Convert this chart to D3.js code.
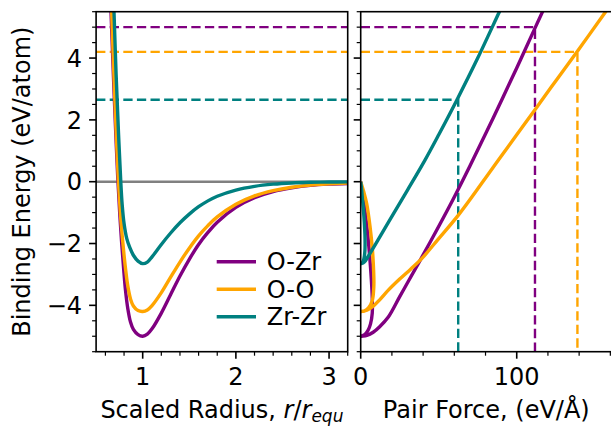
<!DOCTYPE html>
<html><head><meta charset="utf-8">
<script src="https://cdn.jsdelivr.net/npm/d3@7"></script>
<style>body{margin:0;background:#fff}svg{display:block;font-family:"DejaVu Sans",sans-serif}</style>
</head><body><svg id="c" width="611" height="428"></svg>
<script>
const series = ["O-Zr", "O-O", "Zr-Zr"];
const colors = ["#800080", "#ffa500", "#008080"];

// Left panel: binding energy vs scaled radius
const rOZr = [0.65,0.66,0.685,0.705,0.733,0.755,0.775,0.795,0.815,0.84,0.87,0.9,0.95,1.0,1.05,1.1,1.2,1.3,1.4,1.5,1.6,1.7,1.8,2.0,2.2,2.4,2.6,2.8,3.0,3.2];
const eOZr = [6.3,5.5,3.5,2.0,0.1,-1.1,-2.0,-2.8,-3.5,-4.1,-4.55,-4.78,-4.95,-5.0,-4.93,-4.76,-4.25,-3.65,-3.05,-2.51,-2.03,-1.64,-1.31,-0.83,-0.52,-0.32,-0.2,-0.12,-0.08,-0.06];
const rOO = [0.655,0.667,0.69,0.71,0.738,0.76,0.78,0.8,0.82,0.84,0.87,0.9,0.95,1.0,1.05,1.1,1.2,1.3,1.4,1.5,1.6,1.7,1.8,2.0,2.2,2.4,2.6,2.8,3.0,3.2];
const eOO = [6.5,5.5,3.55,2.0,0.1,-1.0,-1.75,-2.38,-2.92,-3.37,-3.8,-4.02,-4.17,-4.2,-4.15,-4.01,-3.59,-3.09,-2.6,-2.15,-1.75,-1.42,-1.14,-0.73,-0.46,-0.29,-0.18,-0.11,-0.07,-0.04];
const rZrZr = [0.68,0.692,0.715,0.74,0.764,0.78,0.8,0.83,0.86,0.9,0.95,1.0,1.05,1.1,1.2,1.3,1.4,1.5,1.6,1.7,1.8,2.0,2.2,2.4,2.6,2.8,3.0,3.2];
const eZrZr = [6.5,5.5,3.45,1.6,0.05,-0.75,-1.35,-1.85,-2.12,-2.38,-2.57,-2.65,-2.6,-2.43,-2.03,-1.66,-1.33,-1.05,-0.81,-0.62,-0.47,-0.27,-0.15,-0.08,-0.04,-0.02,-0.01,-0.005];

// Right panel: binding energy vs pair force
const fOZr = [0,1.4,2.9,4.5,5.8,6.8,7.4,7.4,6.3,4.6,2.5,0,4,8,12,17.7,25,30,36.9,45,59,70,85,100,111.7,117,120];
const efOZr = [0,-0.45,-1.0,-1.7,-2.45,-3.15,-3.75,-4.25,-4.6,-4.82,-4.95,-5.0,-4.97,-4.87,-4.7,-4.38,-3.72,-3.27,-2.65,-1.91,-0.59,0.51,2.07,3.68,4.97,5.55,5.88];
const fOO = [0,1.8,3.8,6.0,7.5,8.3,8.4,7.4,5.0,2.5,0,4,8,12,17.7,25,32,39.1,50,62.6,80,100,111.7,125,138.9,157,160];
const efOO = [0,-0.3,-0.7,-1.46,-2.2,-2.9,-3.4,-3.85,-4.08,-4.18,-4.2,-4.16,-4.03,-3.83,-3.51,-3.15,-2.83,-2.49,-1.84,-1.08,0.12,1.52,2.33,3.26,4.22,5.5,5.71];
const fZrZr = [0,0.6,1.0,1.8,2.35,2.7,2.8,2.7,2.35,1.8,1.0,0,1.5,3,5,10,20,30,41.2,50,61.5,75,88.9,92];
const efZrZr = [0,-0.25,-0.5,-0.95,-1.35,-1.7,-2.0,-2.23,-2.41,-2.54,-2.62,-2.65,-2.63,-2.56,-2.4,-1.98,-1.12,-0.27,0.7,1.52,2.63,4.0,5.5,5.83];

// Reference levels (well depths) and the force where each curve reaches them
const depthLevels = [5.0, 4.2, 2.65];
const forceAtLevel = [111.7, 138.9, 62.5];

const xTicksLeft = [1, 2, 3];
const xTicksRight = [0, 100];
const yTicks = [-4, -2, 0, 2, 4];

const leftData = [[rOZr, eOZr], [rOO, eOO], [rZrZr, eZrZr]];
const rightData = [[fOZr, efOZr], [fOO, efOO], [fZrZr, efZrZr]];

const svg = d3.select("#c");
const yTop = 11.7, yBot = 351.7;
const y = d3.scaleLinear().domain([-5.5, 5.5]).range([yBot, yTop]);
const xL = d3.scaleLinear().domain([0.5, 3.2]).range([96.1, 347.7]);
const xR = d3.scaleLinear().domain([0, 161]).range([360.7, 611.9]);
const fmt = v => (v < 0 ? "\u2212" + Math.abs(v) : String(v));

const defs = svg.append("defs");
defs.append("clipPath").attr("id", "clipL").append("rect")
  .attr("x", xL.range()[0]).attr("y", yTop).attr("width", xL.range()[1] - xL.range()[0]).attr("height", yBot - yTop);
defs.append("clipPath").attr("id", "clipR").append("rect")
  .attr("x", xR.range()[0]).attr("y", yTop).attr("width", xR.range()[1] - xR.range()[0]).attr("height", yBot - yTop);

const dash = "9.3,4.3";
const curveW = 3.4;

// ---- Left panel ----
const gL = svg.append("g").attr("clip-path", "url(#clipL)");
gL.append("line").attr("x1", xL.range()[0]).attr("x2", xL.range()[1])
  .attr("y1", y(0)).attr("y2", y(0)).attr("stroke", "#808080").attr("stroke-width", 2.5);
depthLevels.forEach((d, i) => {
  gL.append("line").attr("x1", xL.range()[0]).attr("x2", xL.range()[1])
    .attr("y1", y(d)).attr("y2", y(d)).attr("stroke", colors[i]).attr("stroke-width", 2.4)
    .attr("stroke-dasharray", dash);
});
leftData.forEach(([xs, es], i) => {
  const line = d3.line().x((d, j) => xL(xs[j])).y((d, j) => y(es[j])).curve(d3.curveCatmullRom.alpha(0.5));
  gL.append("path").attr("d", line(xs)).attr("fill", "none").attr("stroke", colors[i])
    .attr("stroke-width", curveW).attr("stroke-linejoin", "round");
});

// ---- Right panel ----
const gR = svg.append("g").attr("clip-path", "url(#clipR)");
depthLevels.forEach((d, i) => {
  gR.append("path")
    .attr("d", `M${xR(0)},${y(d)}H${xR(forceAtLevel[i])}V${yBot}`)
    .attr("fill", "none").attr("stroke", colors[i]).attr("stroke-width", 2.4)
    .attr("stroke-dasharray", dash);
});
rightData.forEach(([xs, es], i) => {
  const line = d3.line().x((d, j) => xR(xs[j])).y((d, j) => y(es[j])).curve(d3.curveCatmullRom.alpha(0.5));
  gR.append("path").attr("d", line(xs)).attr("fill", "none").attr("stroke", colors[i])
    .attr("stroke-width", curveW).attr("stroke-linejoin", "round");
});

// ---- Axes ----
function frame(x0, x1) {
  svg.append("rect").attr("x", x0).attr("y", yTop).attr("width", x1 - x0).attr("height", yBot - yTop)
    .attr("fill", "none").attr("stroke", "#000").attr("stroke-width", 1.6);
}
frame(xL.range()[0], xL.range()[1]);
frame(xR.range()[0], xR.range()[1]);

function yAxis(x0, labels) {
  const g = svg.append("g");
  const minor = d3.range(-5.5, 5.51, 0.5).filter(v => !yTicks.includes(v));
  minor.forEach(v => g.append("line").attr("x1", x0 - 4).attr("x2", x0).attr("y1", y(v)).attr("y2", y(v))
    .attr("stroke", "#000").attr("stroke-width", 1.2));
  yTicks.forEach(v => {
    g.append("line").attr("x1", x0 - 7).attr("x2", x0).attr("y1", y(v)).attr("y2", y(v))
      .attr("stroke", "#000").attr("stroke-width", 1.6);
    if (labels) g.append("text").attr("x", x0 - 14).attr("y", y(v) + 8.7).attr("text-anchor", "end")
      .attr("font-size", 24).text(fmt(v));
  });
}
yAxis(xL.range()[0], true);
yAxis(xR.range()[0], false);

function xAxis(sc, majors, minors) {
  const g = svg.append("g");
  minors.forEach(v => g.append("line").attr("x1", sc(v)).attr("x2", sc(v)).attr("y1", yBot).attr("y2", yBot + 4)
    .attr("stroke", "#000").attr("stroke-width", 1.2));
  majors.forEach(v => {
    g.append("line").attr("x1", sc(v)).attr("x2", sc(v)).attr("y1", yBot).attr("y2", yBot + 7)
      .attr("stroke", "#000").attr("stroke-width", 1.6);
    g.append("text").attr("x", sc(v)).attr("y", 385).attr("text-anchor", "middle").attr("font-size", 24).text(fmt(v));
  });
}
xAxis(xL, xTicksLeft, d3.range(0.6, 3.21, 0.2).filter(v => Math.abs(v - Math.round(v)) > 1e-6));
xAxis(xR, xTicksRight, [20, 40, 60, 80, 120, 140, 160]);

// Axis labels
svg.append("text").attr("transform", `translate(29.5,${(yTop + yBot) / 2}) rotate(-90)`)
  .attr("text-anchor", "middle").attr("font-size", 24).text("Binding Energy (eV/atom)");
const xl = svg.append("text").attr("x", (xL.range()[0] + xL.range()[1]) / 2).attr("y", 418)
  .attr("text-anchor", "middle").attr("font-size", 24);
xl.append("tspan").text("Scaled Radius, ");
xl.append("tspan").attr("font-style", "italic").text("r");
xl.append("tspan").text("/");
xl.append("tspan").attr("font-style", "italic").text("r");
xl.append("tspan").attr("font-style", "italic").attr("font-size", 17).attr("dy", 4).text("equ");
svg.append("text").attr("x", (xR.range()[0] + xR.range()[1]) / 2).attr("y", 418)
  .attr("text-anchor", "middle").attr("font-size", 24).text("Pair Force, (eV/\u00C5)");

// Legend
const legY = [261.7, 289.3, 316.7];
series.forEach((s, i) => {
  svg.append("line").attr("x1", 216.7).attr("x2", 256).attr("y1", legY[i]).attr("y2", legY[i])
    .attr("stroke", colors[i]).attr("stroke-width", curveW);
  svg.append("text").attr("x", 266.7).attr("y", legY[i] + 8.7).attr("font-size", 24).text(s);
});
</script></body></html>
